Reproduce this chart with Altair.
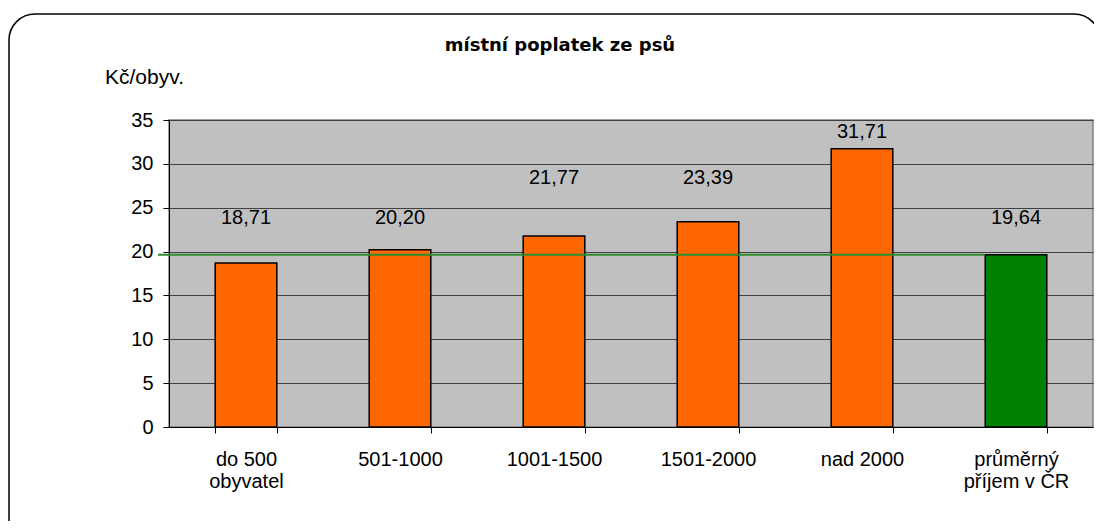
import altair as alt
import pandas as pd

categories = ["do 500\nobyvatel", "501-1000", "1001-1500", "1501-2000", "nad 2000", "průměrný\npříjem v ČR"]
values = [18.71, 20.20, 21.77, 23.39, 31.71, 19.64]
label_y = [23.8, 23.8, 28.4, 28.4, 33.6, 23.8]
bar_colors = ["#FF6600", "#FF6600", "#FF6600", "#FF6600", "#FF6600", "#008000"]
y_ticks = [0, 5, 10, 15, 20, 25, 30, 35]
title_text = "místní poplatek ze psů"
y_title = "Kč/obyv."

df = pd.DataFrame({"cat": categories, "value": values, "label_y": label_y, "color": bar_colors})
one = pd.DataFrame({"k": [0]})

FONT = "Liberation Sans"
FS = 20
W, H = 924, 307

x_enc = alt.X(
    "cat:N", sort=categories, title=None,
    scale=alt.Scale(paddingInner=0.6, paddingOuter=0.3),
    axis=alt.Axis(
        labelExpr="split(datum.label, '\\n')", labelAngle=0, labelFontSize=FS,
        labelFont=FONT, labelColor="#000", labelLineHeight=22, labelPadding=16,
        labelBaseline="top", tickBand="extent", tickSize=6, tickColor="#000",
        domainColor="#000", grid=False,
    ),
)

bars = alt.Chart(df).mark_bar(stroke="#000", strokeWidth=1.5).encode(
    x=x_enc,
    y=alt.Y(
        "value:Q", title=None,
        scale=alt.Scale(domain=[0, 35], nice=False),
        axis=alt.Axis(
            values=y_ticks, labelFontSize=FS, labelFont=FONT, labelColor="#000",
            tickSize=6, tickColor="#000", domainColor="#000", labelPadding=10,
            gridColor="#404040", gridWidth=1,
        ),
    ),
    color=alt.Color("color:N", scale=None),
)

labels = alt.Chart(df).transform_calculate(
    txt="replace(format(datum.value, '.2f'), '.', ',')"
).mark_text(font=FONT, fontSize=FS, color="#000", baseline="middle").encode(
    x=alt.X("cat:N", sort=categories),
    y=alt.Y("label_y:Q"),
    text="txt:N",
)

avg_line = alt.Chart(one).mark_rule(color="#2E8B2E", strokeWidth=2).encode(
    y=alt.datum(values[-1]),
    x=alt.value(-11),
    x2=alt.value(815),
)

frame = alt.Chart(one).mark_rect(
    fill=None, stroke="#000", strokeWidth=1.5, cornerRadius=26, clip=False
).encode(
    x=alt.value(-160), x2=alt.value(931), y=alt.value(-106), y2=alt.value(440)
)

title = alt.Chart(one).mark_text(
    font="DejaVu Sans", fontSize=18, fontWeight="bold", color="#000", align="center", baseline="middle"
).encode(x=alt.value(391), y=alt.value(-74), text=alt.value(title_text))

ytitle = alt.Chart(one).mark_text(
    font=FONT, fontSize=21, color="#000", align="left", baseline="middle"
).encode(x=alt.value(-64), y=alt.value(-42), text=alt.value(y_title))

chart = alt.layer(frame, bars, avg_line, labels, title, ytitle).properties(
    width=W, height=H,
    autosize=alt.AutoSizeParams(type="none"),
    padding={"left": 161, "top": 112, "right": 1, "bottom": 94},
    background="white",
).configure_view(
    fill="#C0C0C0", stroke="#808080", strokeWidth=1.5
)

chart.save("out.html", embed_options={"renderer": "svg", "actions": False})
